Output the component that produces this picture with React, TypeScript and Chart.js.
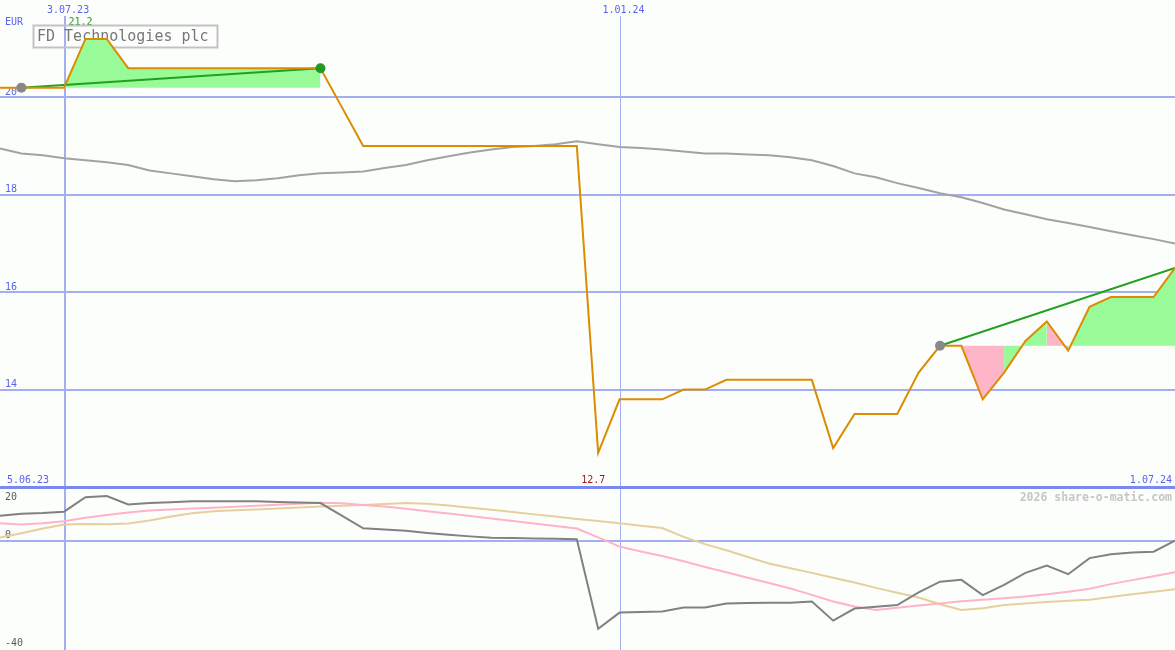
import React, { useEffect, useRef } from 'react';
import { Chart, registerables } from 'chart.js';

Chart.register(...registerables);

// ---------- data (weekly points, week 0 = 12.06.23, week 55 = 1.07.24) ----------
const price = [
  20.2, 20.2, 20.2, 20.2, 21.2, 21.2, 20.6, 20.6, 20.6, 20.6,
  20.6, 20.6, 20.6, 20.6, 20.6, 20.6, 19.8, 19.0, 19.0, 19.0,
  19.0, 19.0, 19.0, 19.0, 19.0, 19.0, 19.0, 19.0, 12.7, 13.8,
  13.8, 13.8, 14.0, 14.0, 14.2, 14.2, 14.2, 14.2, 14.2, 12.8,
  13.5, 13.5, 13.5, 14.35, 14.9, 14.9, 13.8, 14.35, 15.0, 15.4,
  14.8, 15.7, 15.9, 15.9, 15.9, 16.5,
];
const movingAvg = [
  18.95, 18.85, 18.81, 18.75, 18.71, 18.67, 18.61, 18.5, 18.44, 18.38,
  18.32, 18.28, 18.3, 18.34, 18.4, 18.44, 18.46, 18.48, 18.55, 18.61,
  18.71, 18.79, 18.87, 18.93, 18.98, 19.0, 19.04, 19.1, 19.04, 18.98,
  18.96, 18.93, 18.89, 18.85, 18.85, 18.83, 18.81, 18.77, 18.71, 18.59,
  18.44, 18.36, 18.24, 18.14, 18.03, 17.95, 17.83, 17.7, 17.6, 17.5,
  17.42, 17.34, 17.25, 17.17, 17.09, 17.0,
];
const oscDark = [
  9.3, 10.0, 10.3, 10.8, 16.2, 16.6, 13.5, 14.0, 14.3, 14.7,
  14.7, 14.7, 14.7, 14.4, 14.2, 14.0, 9.3, 4.6, 4.2, 3.7,
  2.9, 2.2, 1.6, 1.1, 1.0, 0.8, 0.7, 0.5, -32.8, -26.8,
  -26.6, -26.4, -24.9, -24.9, -23.4, -23.2, -23.1, -23.1, -22.7, -29.8,
  -25.3, -24.6, -24.0, -19.3, -15.3, -14.6, -20.3, -16.5, -12.0, -9.3,
  -12.5, -6.5, -5.1, -4.4, -4.1, 0.0,
];
const oscPink = [
  6.5, 6.0, 6.5, 7.2, 8.5, 9.6, 10.5, 11.2, 11.6, 12.0,
  12.3, 12.6, 13.0, 13.4, 13.8, 14.1, 13.9, 13.3, 12.7, 11.9,
  11.0, 10.1, 9.2, 8.3, 7.3, 6.4, 5.5, 4.5, 1.2, -2.2,
  -4.0, -5.7, -7.7, -9.8, -11.8, -13.8, -15.8, -17.8, -20.2, -22.7,
  -24.5, -25.8, -25.0, -24.2, -23.4, -22.6, -22.0, -21.5, -20.8, -20.0,
  -19.0, -17.9, -16.2, -14.7, -13.3, -11.8,
];
const oscTan = [
  1.2, 2.8, 4.5, 6.0, 6.2, 6.1, 6.4, 7.5, 9.0, 10.2,
  11.0, 11.3, 11.6, 12.0, 12.4, 12.7, 13.0, 13.3, 13.7, 14.0,
  13.8, 13.1, 12.3, 11.5, 10.7, 9.8, 9.0, 8.1, 7.3, 6.5,
  5.6, 4.7, 1.4, -1.3, -3.6, -6.1, -8.5, -10.3, -12.0, -13.8,
  -15.6, -17.6, -19.4, -21.2, -23.7, -25.8, -25.2, -24.0, -23.4, -22.9,
  -22.4, -22.0, -21.0, -20.0, -19.0, -18.1,
];

const trendStarts = [1, 44];
const trendEnds = [15, 55];
const markerWeeks = [1, 15, 44];
const gainSegmentsB = [true, false, false, true, true, false, true, true, true, true, true];

const monthTickWeeks = [3, 29];
const monthTickLabels = ['3.07.23', '1.01.24'];
const startLabel = '5.06.23';
const endLabel = '1.07.24';
const priceTicks = [14, 16, 18, 20];
const oscTicks = [20, 0, -40];
const oscGridTicks = [0];
const titleText = 'FD Technologies plc';
const currencyText = 'EUR';
const watermarkText = '2026 share-o-matic.com';

// ---------- styles ----------
const BG = '#fcfefc';
const GRID = '#a3aff2';
const SEP = '#7b88ee';
const BLUE_TEXT = '#5a62f2';
const ORANGE = '#dc8c00';
const MA_GRAY = '#a2a2a2';
const TREND_GREEN = '#22a022';
const FILL_GREEN = '#98fb98';
const FILL_PINK = '#ffb5c8';
const DOT_COLORS = ['#888888', '#229922', '#888888'];
const MONTH_LINE_WIDTHS = [2, 1];
const MONO = '"DejaVu Sans Mono", "Liberation Mono", monospace';

const WIDTH = 1175;
const MAIN_H = 487;
const LOW_H = 163;

const pts = (arr: number[], from = 0, to = arr.length - 1) =>
  arr.slice(from, to + 1).map((v, i) => ({ x: from + i, y: v }));

function hLine(ctx: CanvasRenderingContext2D, x0: number, x1: number, y: number, lw: number) {
  ctx.lineWidth = lw;
  ctx.beginPath();
  ctx.moveTo(x0, y);
  ctx.lineTo(x1, y);
  ctx.stroke();
}
function vLine(ctx: CanvasRenderingContext2D, x: number, y0: number, y1: number, lw: number) {
  ctx.lineWidth = lw;
  ctx.beginPath();
  ctx.moveTo(x, y0);
  ctx.lineTo(x, y1);
  ctx.stroke();
}
const crisp = (p: number, lw: number) => (lw % 2 === 1 ? Math.round(p) + 0.5 : Math.round(p));

const mainOverlay = {
  id: 'mainOverlay',
  beforeDraw(chart: any) {
    const { ctx, width, height } = chart;
    ctx.save();
    ctx.fillStyle = BG;
    ctx.fillRect(0, 0, width, height);
    ctx.restore();
  },
  beforeDatasetsDraw(chart: any) {
    const { ctx, width, height } = chart;
    const x = chart.scales.x;
    const y = chart.scales.y;
    ctx.save();
    ctx.strokeStyle = GRID;
    priceTicks.forEach((v) => hLine(ctx, 0, width, crisp(y.getPixelForValue(v), 2), 2));
    monthTickWeeks.forEach((w, i) => {
      const lw = MONTH_LINE_WIDTHS[i];
      vLine(ctx, crisp(x.getPixelForValue(w), lw) + (lw === 2 ? 1 : 0), 16, height, lw);
    });
    ctx.strokeStyle = SEP;
    hLine(ctx, 0, width, height, 2);

    ctx.font = `10px ${MONO}`;
    ctx.textBaseline = 'alphabetic';
    ctx.fillStyle = BLUE_TEXT;
    ctx.textAlign = 'left';
    priceTicks.forEach((v) => ctx.fillText(String(v), 5, y.getPixelForValue(v) - 2.5));
    ctx.fillText(currencyText, 5, 25);
    ctx.fillText(startLabel, 7, height - 4);
    ctx.textAlign = 'right';
    ctx.fillText(endLabel, width - 3, height - 4);
    ctx.textAlign = 'center';
    monthTickWeeks.forEach((w, i) => ctx.fillText(monthTickLabels[i], x.getPixelForValue(w) + 4, 12.5));

    const maxV = Math.max(...price);
    const minV = Math.min(...price);
    const maxI = price.indexOf(maxV);
    const minI = price.indexOf(minV);
    ctx.fillStyle = '#229922';
    ctx.fillText(maxV.toFixed(1), x.getPixelForValue(maxI) - 5, 25);
    ctx.fillStyle = '#aa1818';
    ctx.fillText(minV.toFixed(1), x.getPixelForValue(minI) - 5, height - 4);

    // title box
    ctx.strokeStyle = '#c2c2c2';
    ctx.lineWidth = 2;
    ctx.strokeRect(33.5, 25.5, 184, 22);
    ctx.fillStyle = '#777777';
    ctx.textAlign = 'left';
    ctx.font = `15px ${MONO}`;
    ctx.fillText(titleText, 37, 41);
    ctx.restore();
  },
};

const lowOverlay = {
  id: 'lowOverlay',
  beforeDraw(chart: any) {
    const { ctx, width, height } = chart;
    ctx.save();
    ctx.fillStyle = BG;
    ctx.fillRect(0, 0, width, height);
    ctx.restore();
  },
  beforeDatasetsDraw(chart: any) {
    const { ctx, width, height, chartArea } = chart;
    const x = chart.scales.x;
    const y = chart.scales.y;
    ctx.save();
    ctx.strokeStyle = GRID;
    oscGridTicks.forEach((v) => hLine(ctx, 0, width, crisp(y.getPixelForValue(v), 2), 2));
    monthTickWeeks.forEach((w, i) => {
      const lw = MONTH_LINE_WIDTHS[i];
      vLine(ctx, crisp(x.getPixelForValue(w), lw) + (lw === 2 ? 1 : 0), 0, height, lw);
    });
    ctx.strokeStyle = SEP;
    hLine(ctx, 0, width, 1, 2);

    ctx.font = `10px ${MONO}`;
    ctx.fillStyle = '#5a5a5a';
    ctx.textAlign = 'left';
    oscTicks.forEach((v) => {
      const py = y.getPixelForValue(v);
      const by = Math.min(Math.max(py - 2.5, chartArea.top + 12.5), chartArea.bottom - 2);
      ctx.fillText(String(v), 5, by);
    });
    ctx.font = `bold 11.5px ${MONO}`;
    ctx.fillStyle = '#c6c6c6';
    ctx.textAlign = 'right';
    ctx.fillText(watermarkText, width - 3, 13.5);
    ctx.restore();
  },
};

const lineDefaults = { pointRadius: 0, borderWidth: 2, fill: false, tension: 0 };

export default function App() {
  const mainRef = useRef<HTMLCanvasElement>(null);
  const lowRef = useRef<HTMLCanvasElement>(null);

  useEffect(() => {
    document.body.style.margin = '0';
    const trendDatasets = trendStarts.map((s, i) => ({
      ...lineDefaults,
      label: `trend${i}`,
      data: [
        { x: s, y: price[s] },
        { x: trendEnds[i], y: price[trendEnds[i]] },
      ],
      borderColor: TREND_GREEN,
      order: 2,
    }));

    const mainChart = new Chart(mainRef.current as HTMLCanvasElement, {
      type: 'line',
      data: {
        datasets: [
          {
            label: 'markers',
            data: markerWeeks.map((w) => ({ x: w, y: price[w] })),
            showLine: false,
            pointRadius: 5,
            pointBorderWidth: 0,
            pointBackgroundColor: DOT_COLORS,
            order: 0,
          } as any,
          {
            ...lineDefaults,
            label: 'price',
            data: pts(price),
            borderColor: ORANGE,
            order: 1,
          },
          ...trendDatasets,
          {
            ...lineDefaults,
            label: 'ma',
            data: pts(movingAvg),
            borderColor: MA_GRAY,
            order: 3,
          },
          {
            label: 'fillA',
            data: pts(price, trendStarts[0], trendEnds[0]),
            pointRadius: 0,
            borderWidth: 0,
            borderColor: 'rgba(0,0,0,0)',
            backgroundColor: FILL_GREEN,
            fill: { value: price[trendStarts[0]] },
            order: 4,
          } as any,
          {
            label: 'fillB',
            data: pts(price, trendStarts[1], trendEnds[1]),
            pointRadius: 0,
            borderWidth: 0,
            borderColor: 'rgba(0,0,0,0)',
            backgroundColor: FILL_GREEN,
            fill: { value: price[trendStarts[1]] },
            segment: {
              backgroundColor: (c: any) => (gainSegmentsB[c.p0DataIndex] ? FILL_GREEN : FILL_PINK),
            },
            order: 4,
          } as any,
        ],
      },
      options: {
        animation: false,
        responsive: false,
        maintainAspectRatio: false,
        events: [],
        layout: { padding: 0, autoPadding: false },
        plugins: { legend: { display: false }, tooltip: { enabled: false } },
        scales: {
          x: { type: 'linear', min: 0, max: price.length - 1, display: false },
          y: { type: 'linear', min: 12, max: 22, display: false },
        },
      },
      plugins: [mainOverlay],
    });

    const lowChart = new Chart(lowRef.current as HTMLCanvasElement, {
      type: 'line',
      data: {
        datasets: [
          { ...lineDefaults, label: 'osc', data: pts(oscDark), borderColor: '#818181', order: 0 },
          { ...lineDefaults, label: 'oscPink', data: pts(oscPink), borderColor: '#ffb3c9', order: 1 },
          { ...lineDefaults, label: 'oscTan', data: pts(oscTan), borderColor: '#e5d09c', order: 2 },
        ],
      },
      options: {
        animation: false,
        responsive: false,
        maintainAspectRatio: false,
        events: [],
        layout: { padding: { top: 0, left: 0, right: 0, bottom: 2 }, autoPadding: false },
        plugins: { legend: { display: false }, tooltip: { enabled: false } },
        scales: {
          x: { type: 'linear', min: 0, max: oscDark.length - 1, display: false },
          y: { type: 'linear', min: -40, max: 20, display: false },
        },
      },
      plugins: [lowOverlay],
    });

    return () => {
      mainChart.destroy();
      lowChart.destroy();
    };
  }, []);

  return (
    <div style={{ position: 'fixed', left: 0, top: 0, width: WIDTH, height: MAIN_H + LOW_H, background: BG }}>
      <canvas ref={mainRef} width={WIDTH} height={MAIN_H} style={{ display: 'block', width: WIDTH, height: MAIN_H }} />
      <canvas ref={lowRef} width={WIDTH} height={LOW_H} style={{ display: 'block', width: WIDTH, height: LOW_H }} />
    </div>
  );
}
